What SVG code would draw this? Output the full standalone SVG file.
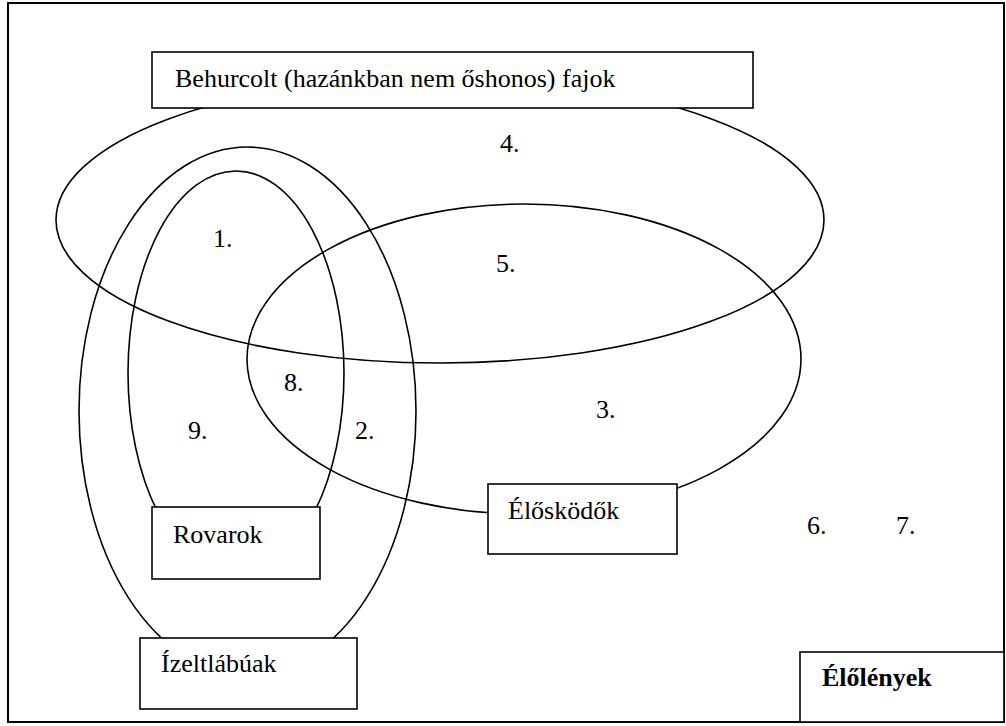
<svg xmlns="http://www.w3.org/2000/svg" width="1006" height="726" viewBox="0 0 1006 726">
  <style>
    .set { fill: none; stroke: #000; stroke-width: 1.6; }
    .box { fill: #fff; stroke: #000; stroke-width: 1.6; }
    .frame { fill: #fff; stroke: #000; stroke-width: 2; }
    .lbl { font-family: "Liberation Serif", "Times New Roman", serif; font-size: 26px; fill: #000; }
    .bold { font-weight: bold; }
  </style>
  <rect class="frame" x="8" y="3" width="996" height="719"/>
  <g id="sets">
    <ellipse id="set-behurcolt" class="set" cx="440" cy="220" rx="384" ry="143"/>
    <ellipse id="set-elos" class="set" cx="524" cy="359" rx="277" ry="155"/>
    <ellipse id="set-izelt" class="set" cx="247.5" cy="411" rx="168.5" ry="264"/>
    <ellipse id="set-rovar" class="set" cx="236" cy="373" rx="108" ry="202"/>
  </g>
  <g id="connectors"></g>
  <g id="node-behurcolt">
    <rect class="box" x="152" y="52" width="601" height="56"/>
    <text class="lbl" x="175" y="87">Behurcolt (hazánkban nem őshonos) fajok</text>
  </g>
  <g id="node-rovarok">
    <rect class="box" x="152" y="507" width="168" height="72"/>
    <text class="lbl" x="173" y="543">Rovarok</text>
  </g>
  <g id="node-izeltlabuak">
    <rect class="box" x="140" y="638" width="217" height="71"/>
    <text class="lbl" x="161" y="672">Ízeltlábúak</text>
  </g>
  <g id="node-elosködok">
    <rect class="box" x="488" y="484" width="189" height="70"/>
    <text class="lbl" x="508" y="519">Élősködők</text>
  </g>
  <g id="node-elolenyek">
    <rect class="box" x="800" y="652" width="204" height="70"/>
    <text class="lbl bold" x="822" y="686">Élőlények</text>
  </g>
  <g id="numbers">
    <text class="lbl" x="213" y="247">1.</text>
    <text class="lbl" x="355" y="439">2.</text>
    <text class="lbl" x="596" y="418">3.</text>
    <text class="lbl" x="500" y="152">4.</text>
    <text class="lbl" x="496" y="272">5.</text>
    <text class="lbl" x="807" y="534">6.</text>
    <text class="lbl" x="896" y="534">7.</text>
    <text class="lbl" x="284" y="391">8.</text>
    <text class="lbl" x="188" y="439">9.</text>
  </g>
</svg>
